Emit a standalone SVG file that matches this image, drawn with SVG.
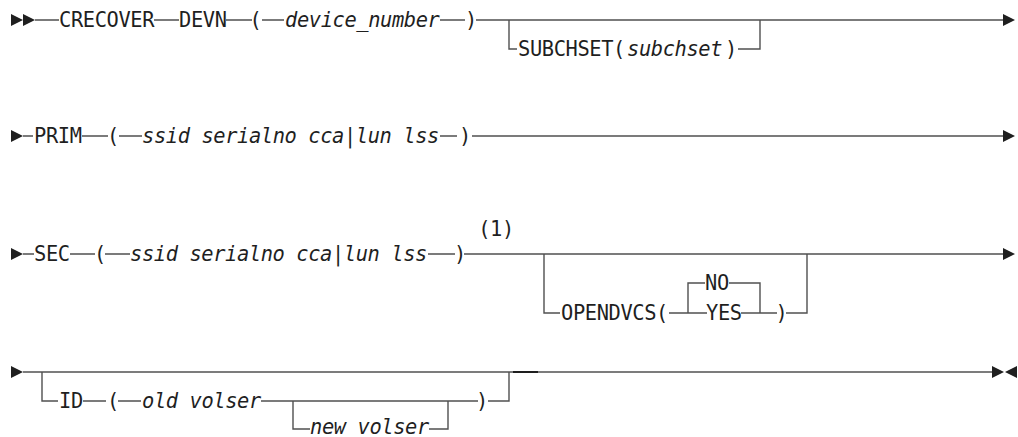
<svg xmlns="http://www.w3.org/2000/svg" width="1018" height="437" viewBox="0 0 1018 437">
<style>
text{font-family:"DejaVu Sans Mono","Liberation Mono",monospace;font-size:20.4px;letter-spacing:-0.4px;fill:#1f1f1f}
.i{font-style:italic}
.u{font-style:normal}
.ln{stroke:#505050;stroke-width:1.4;fill:none}
.ah{fill:#1f1f1f;stroke:none}
</style>
<rect width="1018" height="437" fill="#fff"/>
<g id="connectors" class="ln">
<path d="M35 20H59M154 20H179M226 20H252M262 20H284M440 20H465M476 20H1003"/>
<path d="M509 20V49H517M738 49H760V20"/>
<path d="M23 136H33M82 136H108M119 136H142M440 136H457M472 136H1003"/>
<path d="M23 254H34M70 254H95M105 254H130M428 254H455M464 254H1003"/>
<path d="M544 254V313H560M669 313H707M688 313V283H705M729 283H760V313M741 313H777M786 313H807V254"/>
<path d="M23 372H992"/>
<path d="M42 372V401H58M83 401H106M118 401H141M261 401H478M293 401V429H310M429 429H448V401M488 401H509V372"/>
<path d="M513 372H538" stroke="#1a1a1a" stroke-width="1.9"/>
</g>
<g id="markers">
<polygon class="ah" points="11,14 23,20 11,26"/>
<polygon class="ah" points="23,14 35,20 23,26"/>
<polygon class="ah" points="1003,14 1015,20 1003,26"/>
<polygon class="ah" points="11,130 23,136 11,142"/>
<polygon class="ah" points="1003,130 1015,136 1003,142"/>
<polygon class="ah" points="11,248 23,254 11,260"/>
<polygon class="ah" points="1003,248 1015,254 1003,260"/>
<polygon class="ah" points="11,366 23,372 11,378"/>
<polygon class="ah" points="992,366 1004,372 992,378"/>
<polygon class="ah" points="1017,366 1005,372 1017,378"/>
</g>
<g id="n-crecover"><text x="59" y="27">CRECOVER</text></g>
<g id="n-devn"><text x="179" y="27">DEVN</text></g>
<g id="n-devn-open"><text x="249.5" y="27">(</text></g>
<g id="n-device-number"><text class="i" x="285" y="27">device_number</text></g>
<g id="n-devn-close"><text x="465" y="27">)</text></g>
<g id="n-subchset"><text x="518" y="56">SUBCHSET(</text><text class="i" x="627" y="56">subchset</text><text x="725" y="56">)</text></g>
<g id="n-prim"><text x="34" y="143">PRIM</text></g>
<g id="n-prim-open"><text x="107" y="143">(</text></g>
<g id="n-prim-args"><text class="i" x="142" y="143">ssid serialno cca<tspan class="u">|</tspan>lun lss</text></g>
<g id="n-prim-close"><text x="459" y="143">)</text></g>
<g id="n-sec"><text x="34" y="261">SEC</text></g>
<g id="n-sec-open"><text x="94" y="261">(</text></g>
<g id="n-sec-args"><text class="i" x="130" y="261">ssid serialno cca<tspan class="u">|</tspan>lun lss</text></g>
<g id="n-sec-close"><text x="454" y="261">)</text></g>
<g id="n-note1"><text x="496" y="236" text-anchor="middle">(1)</text></g>
<g id="n-opendvcs"><text x="561" y="320">OPENDVCS(</text></g>
<g id="n-no"><text x="705" y="290">NO</text></g>
<g id="n-yes"><text x="706" y="320">YES</text></g>
<g id="n-opendvcs-close"><text x="775.5" y="320">)</text></g>
<g id="n-id"><text x="59" y="408">ID</text></g>
<g id="n-id-open"><text x="107" y="408">(</text></g>
<g id="n-old-volser"><text class="i" x="142" y="408">old volser</text></g>
<g id="n-new-volser"><text class="i" x="310" y="434">new volser</text></g>
<g id="n-id-close"><text x="476" y="408">)</text></g>
</svg>
